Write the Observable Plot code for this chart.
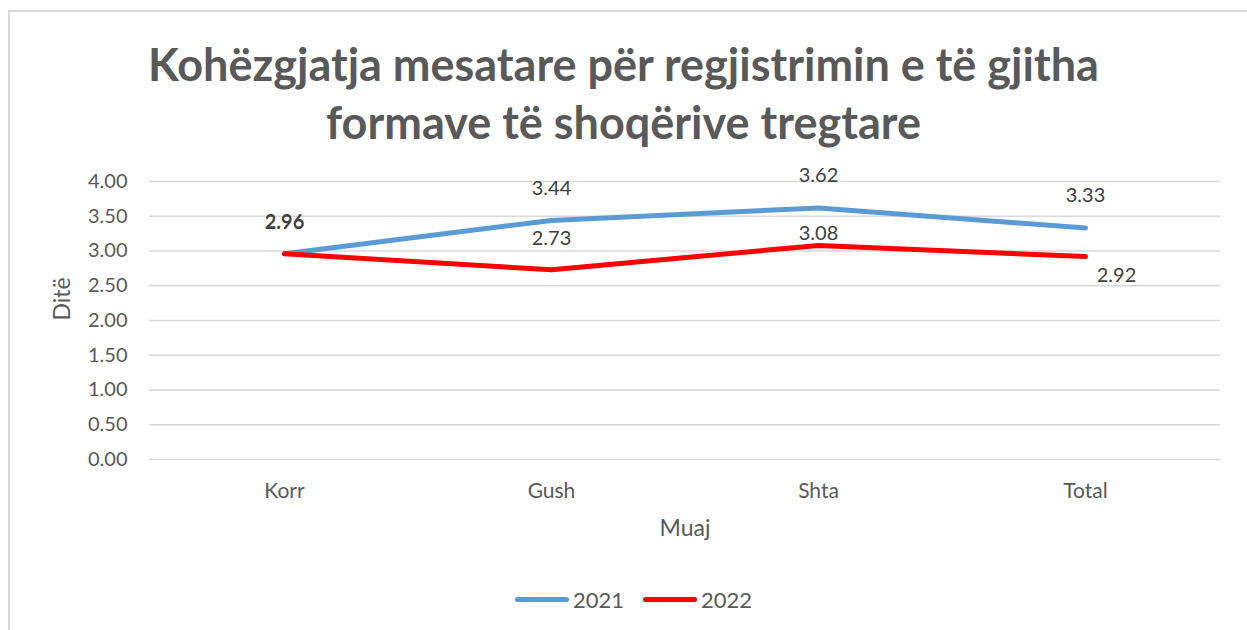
<!DOCTYPE html>
<html>
<head>
<meta charset="utf-8">
<script src="https://cdn.jsdelivr.net/npm/d3@7"></script>
<script src="https://cdn.jsdelivr.net/npm/@observablehq/plot@0.6"></script>
<style>
  html, body { margin: 0; padding: 0; background: #fff; }
  body { width: 1247px; height: 630px; position: relative; overflow: hidden; font-family: Lato, "Open Sans", sans-serif; }
  #frame { position: absolute; left: 8px; top: 10px; width: 1250px; height: 640px; border: 2px solid #d9d9d9; box-sizing: border-box; }
  #title { position: absolute; left: 0; width: 1247px; top: 35px; text-align: center; font-family: Lato, sans-serif; font-weight: bold; font-size: 45px; line-height: 58px; color: #595959; }
  #chart { position: absolute; left: 0; top: 150px; }
  #legend { position: absolute; top: 586px; left: 10px; width: 1247px; display: flex; justify-content: center; gap: 19px; font-size: 22px; color: #595959; align-items: center; }
  .item { display: flex; align-items: center; gap: 4px; }
  .sw { width: 54px; height: 5px; border-radius: 3px; }
</style>
</head>
<body>
<div id="frame"></div>
<div id="title">Kohëzgjatja mesatare për regjistrimin e të gjitha<br>formave të shoqërive tregtare</div>
<div id="chart"></div>
<div id="legend"></div>
<script>
const categories = ["Korr", "Gush", "Shta", "Total"];
const series = ["2021", "2022"];
const values2021 = [2.96, 3.44, 3.62, 3.33];
const values2022 = [2.96, 2.73, 3.08, 2.92];
const yTicks = [0, 0.5, 1, 1.5, 2, 2.5, 3, 3.5, 4];
const colors = ["#5B9BD5", "#FF0000"];
const yLabel = "Ditë";
const xLabel = "Muaj";

const data = [];
categories.forEach((c, i) => {
  data.push({cat: c, series: "2021", value: values2021[i]});
  data.push({cat: c, series: "2022", value: values2022[i]});
});
const d21 = data.filter(d => d.series === "2021");
const d22 = data.filter(d => d.series === "2022");

const fmt = d3.format(".2f");

const chart = Plot.plot({
  width: 1247,
  height: 400,
  marginLeft: 149,
  marginRight: 27,
  marginTop: 31,
  marginBottom: 91,
  style: {fontFamily: "Lato, sans-serif", background: "transparent"},
  x: {type: "point", domain: categories, padding: 0.5, label: null},
  y: {domain: [0, 4], ticks: yTicks, label: null},
  color: {domain: series, range: colors},
  marks: [
    Plot.ruleY(yTicks, {stroke: "#d9d9d9", strokeWidth: 1.5}),
    Plot.axisY({ticks: yTicks, tickSize: 0, tickPadding: 22, tickFormat: fmt, fontSize: 20, fill: "#595959", label: null}),
    Plot.axisX({tickSize: 0, tickPadding: 24, fontSize: 21, fill: "#595959", label: null}),
    Plot.text([yLabel], {frameAnchor: "left", dx: -87, rotate: -90, fontSize: 23, fill: "#595959"}),
    Plot.text([xLabel], {frameAnchor: "bottom", dy: 76, fontSize: 23, fill: "#595959"}),
    Plot.line(data, {x: "cat", y: "value", z: "series", stroke: "series", strokeWidth: 5, strokeLinecap: "round", strokeLinejoin: "round"}),
    Plot.text(d21, {x: "cat", y: "value", text: d => fmt(d.value), dy: -32, fontSize: 20, fill: "#404040"}),
    Plot.text(d22.filter(d => d.cat === "Korr" || d.cat === "Gush"), {x: "cat", y: "value", text: d => fmt(d.value), dy: -31, fontSize: 20, fill: "#404040"}),
    Plot.text(d22.filter(d => d.cat === "Shta"), {x: "cat", y: "value", text: d => fmt(d.value), dy: -12, fontSize: 20, fill: "#404040"}),
    Plot.text(d22.filter(d => d.cat === "Total"), {x: "cat", y: "value", text: d => fmt(d.value), dx: 31, dy: 19, fontSize: 20, fill: "#404040"})
  ]
});
document.getElementById("chart").appendChild(chart);

const legend = document.getElementById("legend");
series.forEach((s, i) => {
  const item = document.createElement("div");
  item.className = "item";
  const sw = document.createElement("div");
  sw.className = "sw";
  sw.style.background = colors[i];
  const t = document.createElement("span");
  t.textContent = s;
  item.appendChild(sw);
  item.appendChild(t);
  legend.appendChild(item);
});
</script>
</body>
</html>
